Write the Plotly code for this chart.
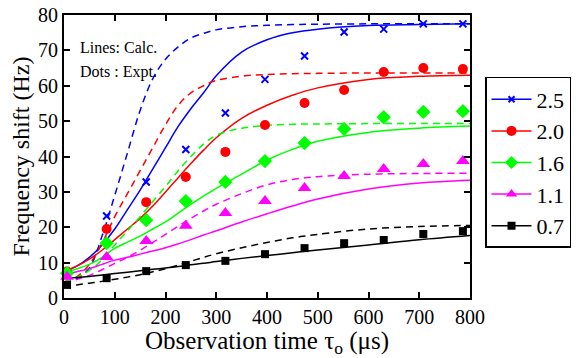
import plotly.graph_objects as go

# ---------------- data ----------------
labels = ["2.5", "2.0", "1.6", "1.1", "0.7"]
colors = ["#0000FF", "#FF0000", "#00FF00", "#FF00FF", "#000000"]
symbols = ["x-thin", "circle", "diamond", "triangle-up", "square"]

# experimental observation times (us)
t_expt = [6, 84, 162, 240, 318, 396, 474, 552, 630, 708, 786]
expt_25 = [7.0, 23.2, 32.8, 42.0, 52.3, 61.8, 68.4, 75.2, 76.0, 77.5, 77.5]
expt_20 = [7.5, 19.5, 27.1, 34.2, 41.3, 48.9, 55.1, 58.8, 63.9, 65.0, 64.7]
expt_16 = [7.0, 15.5, 22.0, 27.4, 32.8, 38.7, 43.8, 47.8, 51.1, 52.6, 52.8]
expt_11 = [6.0, 11.6, 16.1, 20.4, 24.0, 27.4, 31.1, 34.5, 36.5, 37.9, 38.7]
expt_07 = [3.7, 5.6, 7.6, 9.3, 10.5, 12.4, 14.1, 15.5, 16.4, 18.1, 18.9]

# calculated curves
t_solid = [0, 25, 50, 75, 100, 125, 150, 175, 200, 225, 250, 275, 300, 350, 400, 450, 500, 600, 700, 800]
solid_25 = [7.5, 9.0, 11.5, 15.0, 19.5, 25.0, 30.5, 36.5, 42.5, 48.5, 53.5, 58.0, 62.8, 69.5, 73.0, 75.0, 76.0, 77.0, 77.3, 77.5]
solid_20 = [7.5, 9.0, 11.0, 13.5, 16.5, 19.5, 22.5, 26.0, 30.0, 34.0, 38.0, 41.8, 45.3, 50.8, 54.5, 57.3, 59.4, 61.8, 62.7, 63.0]
solid_16 = [7.0, 8.2, 9.5, 11.5, 14.0, 15.8, 17.5, 19.5, 21.5, 24.0, 26.5, 28.8, 31.0, 35.0, 39.0, 42.0, 44.3, 46.8, 48.0, 48.6]
solid_11 = [6.5, 7.4, 8.3, 9.5, 10.7, 11.5, 12.4, 13.3, 14.2, 15.3, 16.5, 17.8, 19.0, 21.5, 23.8, 26.0, 28.0, 30.8, 32.5, 33.3]
solid_07 = [5.5, 5.8, 6.1, 6.5, 6.9, 7.3, 7.7, 8.1, 8.5, 8.9, 9.4, 9.8, 10.3, 11.2, 12.0, 12.8, 13.6, 15.0, 16.5, 17.7]

t_dash = [0, 25, 50, 75, 100, 125, 150, 175, 200, 225, 250, 275, 300, 350, 400, 450, 500, 600, 700, 800]
dash_25 = [4.5, 5.5, 8.5, 17.5, 29.0, 41.0, 53.0, 62.0, 67.5, 71.0, 73.5, 74.8, 75.8, 76.7, 77.1, 77.3, 77.4, 77.5, 77.5, 77.5]
dash_20 = [4.5, 6.0, 9.5, 15.5, 23.0, 29.5, 36.0, 42.5, 49.0, 54.5, 58.0, 60.0, 61.5, 62.7, 63.2, 63.4, 63.5, 63.6, 63.6, 63.6]
dash_16 = [4.5, 5.8, 7.8, 10.8, 15.0, 19.0, 23.0, 27.3, 31.5, 36.0, 40.0, 43.5, 46.0, 48.0, 48.8, 49.1, 49.2, 49.3, 49.3, 49.3]
dash_11 = [4.2, 5.2, 6.4, 8.0, 9.8, 11.5, 13.5, 15.7, 18.0, 20.3, 22.5, 24.6, 26.5, 29.5, 32.0, 33.5, 34.3, 35.0, 35.2, 35.3]
dash_07 = [3.3, 3.7, 4.2, 4.7, 5.3, 5.9, 6.6, 7.4, 8.3, 9.3, 10.4, 11.5, 12.5, 14.2, 15.7, 17.0, 18.0, 19.5, 20.2, 20.5]

expt = [expt_25, expt_20, expt_16, expt_11, expt_07]
solid = [solid_25, solid_20, solid_16, solid_11, solid_07]
dashed = [dash_25, dash_20, dash_16, dash_11, dash_07]
msize = [7, 10, 11, 12, 8]

FONT = "Liberation Serif, Times New Roman, serif"

fig = go.Figure()
for i in range(5):
    fig.add_trace(go.Scatter(x=t_dash, y=dashed[i], mode="lines", line=dict(color=colors[i], width=1.5, dash="7px,5px", shape="spline"), showlegend=False))
    fig.add_trace(go.Scatter(x=t_solid, y=solid[i], mode="lines", line=dict(color=colors[i], width=1.5, shape="spline"), showlegend=False))
for i in range(5):
    mk = dict(color=colors[i], size=msize[i], symbol=symbols[i])
    if symbols[i] == "x-thin":
        mk["line"] = dict(color=colors[i], width=2)
    fig.add_trace(go.Scatter(x=t_expt, y=expt[i], mode="markers", marker=mk, cliponaxis=False, showlegend=False))
# legend entries
for i in range(5):
    mk = dict(color=colors[i], size=min(msize[i], 10), symbol=symbols[i])
    if symbols[i] == "x-thin":
        mk["line"] = dict(color=colors[i], width=2)
        mk["size"] = 6
    fig.add_trace(go.Scatter(x=[None], y=[None], mode="lines+markers", name=labels[i], line=dict(color=colors[i], width=1.5), marker=mk, showlegend=True))

axis_common = dict(showline=True, linecolor="black", linewidth=2, mirror="ticks", ticks="inside", ticklen=6, tickwidth=1.5, tickcolor="black", showgrid=False, zeroline=False, tickfont=dict(family=FONT, size=20, color="black"))

fig.update_layout(
    width=578, height=358,
    margin=dict(l=64, r=108, t=15, b=60, autoexpand=False),
    paper_bgcolor="white", plot_bgcolor="white",
    font=dict(family=FONT, color="black"),
    xaxis=dict(range=[0, 800], dtick=100, automargin=False, title=dict(text="Observation time τ<sub>o</sub> (μs)", font=dict(family=FONT, size=25), standoff=0), **axis_common),
    yaxis=dict(range=[0, 80], dtick=10, automargin=False, title=dict(text="Frequency shift (Hz)", font=dict(family=FONT, size=24), standoff=2), **axis_common),
    legend=dict(x=1.037, y=0.781, xanchor="left", yanchor="top", bordercolor="black", borderwidth=1.5, bgcolor="white", font=dict(family=FONT, size=22), tracegroupgap=0, itemwidth=40),
    annotations=[
        dict(text="Lines: Calc.", x=0.035, y=0.885, xref="paper", yref="paper", xanchor="left", yanchor="middle", showarrow=False, font=dict(family=FONT, size=16)),
        dict(text="Dots : Expt.", x=0.035, y=0.80, xref="paper", yref="paper", xanchor="left", yanchor="middle", showarrow=False, font=dict(family=FONT, size=16)),
    ],
)

fig.write_html("out.html", config={"displayModeBar": False},
               post_script="document.body.style.margin='0';document.body.style.padding='0';document.body.style.overflow='hidden';")
